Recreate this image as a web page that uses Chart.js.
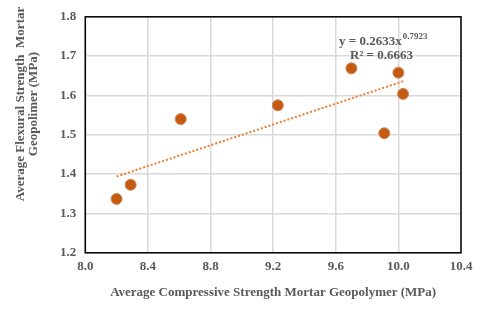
<!DOCTYPE html>
<html>
  <head>
    <meta charset="UTF-8" />
    <script src="https://cdn.jsdelivr.net/npm/chart.js"></script>
    <style>
      html, body { margin: 0; padding: 0; background: #fff; }
      #wrap { width: 480px; height: 309px; }
    </style>
  </head>
  <body>
    <div id="wrap"><canvas id="chart" width="480" height="309"></canvas></div>
    <script>
      // compressive strength (x) vs flexural strength (y), MPa
      const compressive = [8.2, 8.29, 8.61, 9.23, 9.7, 9.91, 10.0, 10.03];
      const flexural = [1.337, 1.373, 1.54, 1.575, 1.669, 1.504, 1.658, 1.604];
      // trendline ends
      const trendX = [8.2, 10.03];
      const trendY = [1.394, 1.636];
      const xTicks = [8.0, 8.4, 8.8, 9.2, 9.6, 10.0, 10.4];
      const yTicks = [1.2, 1.3, 1.4, 1.5, 1.6, 1.7, 1.8];
      const yTitle = ["Average Flexural Strength  Mortar", "Geopolimer (MPa)"];

      const gray = "#595959";
      const serif = "'Liberation Serif', 'Times New Roman', serif";

      // frame round the plot area, y title (sits high, like the original) and equation
      const frameAndLabel = {
        id: "frameAndLabel",
        afterDraw(chart) {
          const { ctx, chartArea: a } = chart;
          ctx.save();
          ctx.strokeStyle = "#000";
          ctx.lineWidth = 1.5;
          ctx.strokeRect(a.left, a.top, a.right - a.left, a.bottom - a.top);

          ctx.fillStyle = gray;
          ctx.font = "bold 13px " + serif;
          ctx.textAlign = "center";
          ctx.textBaseline = "middle";
          ctx.save();
          ctx.translate(21, 104);
          ctx.rotate(-Math.PI / 2);
          ctx.fillText(yTitle[0], 0, 0);
          ctx.fillText(yTitle[1], 0, 13);
          ctx.restore();

          ctx.textAlign = "left";
          ctx.textBaseline = "alphabetic";
          let x = 339, y = 45;
          ctx.fillText("y = 0.2633x", x, y);
          const w = ctx.measureText("y = 0.2633x").width;
          ctx.font = "bold 9px " + serif;
          ctx.fillText("0.7923", x + w + 1, y - 6);
          ctx.font = "bold 13px " + serif;
          ctx.fillText("R² = 0.6663", 350, 59);
          ctx.restore();
        },
      };

      new Chart(document.getElementById("chart"), {
        type: "scatter",
        data: {
          datasets: [
            {
              label: "trend",
              type: "line",
              data: trendX.map((x, i) => ({ x: x, y: trendY[i] })),
              borderColor: "#ED7D31",
              borderWidth: 2,
              borderDash: [2, 2],
              pointRadius: 0,
              fill: false,
            },
            {
              label: "data",
              data: compressive.map((x, i) => ({ x: x, y: flexural[i] })),
              backgroundColor: "#C55A11",
              borderColor: "#C9885A",
              borderWidth: 1,
              pointRadius: 5.5,
            },
          ],
        },
        options: {
          responsive: false,
          animation: false,
          layout: { padding: { top: 11, right: 19, left: 51, bottom: 9 } },
          plugins: { legend: { display: false }, tooltip: { enabled: false } },
          scales: {
            x: {
              type: "linear",
              min: 8.0,
              max: 10.4,
              afterBuildTicks: (s) => { s.ticks = xTicks.map((v) => ({ value: v })); },
              grid: { color: "#D9D9D9", lineWidth: 1.5, drawTicks: false },
              border: { display: false },
              ticks: {
                color: gray,
                padding: 6,
                font: { family: serif, size: 13, weight: "bold" },
                callback: (v) => Number(v).toFixed(1),
              },
              title: {
                display: true,
                text: "Average Compressive Strength Mortar Geopolymer (MPa)",
                color: gray,
                font: { family: serif, size: 13, weight: "bold" },
                padding: { top: 4, bottom: 0 },
              },
            },
            y: {
              min: 1.2,
              max: 1.8,
              afterBuildTicks: (s) => { s.ticks = yTicks.map((v) => ({ value: v })); },
              grid: { color: "#D9D9D9", lineWidth: 1.5, drawTicks: false },
              border: { display: false },
              ticks: {
                color: gray,
                padding: 9,
                font: { family: serif, size: 13, weight: "bold" },
                callback: (v) => Number(v).toFixed(1),
              },
            },
          },
        },
        plugins: [frameAndLabel],
      });
    </script>
  </body>
</html>
